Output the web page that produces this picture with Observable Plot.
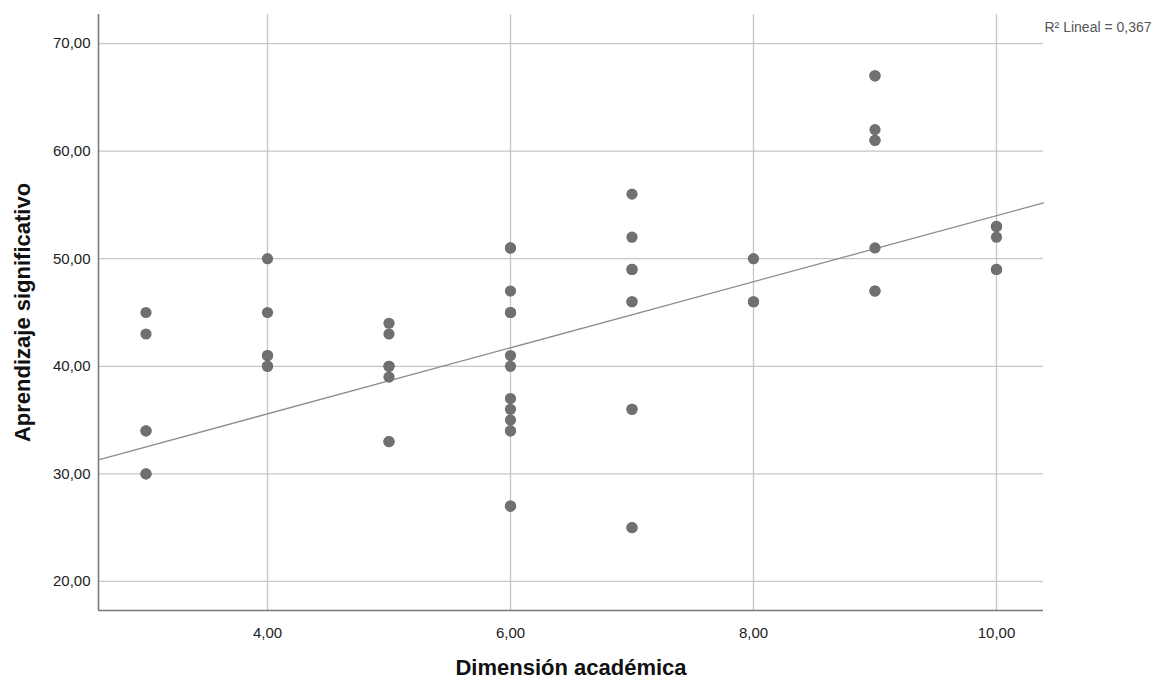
<!DOCTYPE html>
<html>
<head>
<meta charset="utf-8">
<script src="https://cdn.jsdelivr.net/npm/d3@7"></script>
<script src="https://cdn.jsdelivr.net/npm/@observablehq/plot@0.6"></script>
<style>
  html, body { margin: 0; padding: 0; background: #fff; }
  #chart svg { display: block; }
</style>
</head>
<body>
<div id="chart"></div>
<script>
// Data (duplicates listed twice)
const dimensionAcademica = [
  3, 3, 3, 3, 3, 3,
  4, 4, 4, 4, 4, 4,
  5, 5, 5, 5, 5, 5, 5,
  6, 6, 6, 6, 6, 6, 6, 6, 6, 6, 6, 6, 6, 6,
  7, 7, 7, 7, 7, 7, 7, 7, 7, 7,
  8, 8, 8,
  9, 9, 9, 9, 9, 9, 9, 9,
  10, 10, 10, 10, 10
];
const aprendizajeSignificativo = [
  45, 43, 34, 34, 30, 30,
  50, 45, 41, 41, 40, 40,
  44, 43, 40, 40, 39, 33, 33,
  51, 51, 47, 45, 45, 41, 40, 37, 36, 35, 34, 34, 27, 27,
  56, 52, 49, 49, 46, 46, 36, 36, 25, 25,
  50, 46, 46,
  67, 67, 62, 61, 61, 51, 47, 47,
  53, 53, 52, 49, 49
];
const xTicks = [4, 6, 8, 10];
const yTicks = [20, 30, 40, 50, 60, 70];
const fitIntercept = 23.3;
const fitSlope = 3.07;
const r2Label = "R\u00B2 Lineal = 0,367";
const xLabel = "Dimensión académica";
const yLabel = "Aprendizaje significativo";

const xDomain = [2.609, 10.387];
const yDomain = [17.3, 72.7];

const points = dimensionAcademica.map((x, i) => ({x, y: aprendizajeSignificativo[i]}));
const fitLine = xDomain.map(x => ({x, y: fitIntercept + fitSlope * x}));
const fmt = d => d.toFixed(2).replace(".", ",");

const chart = Plot.plot({
  width: 1162,
  height: 679,
  marginLeft: 98,
  marginRight: 119,
  marginTop: 14,
  marginBottom: 69,
  style: {fontFamily: "'Liberation Sans', Arial, sans-serif", background: "#fff"},
  x: {domain: xDomain},
  y: {domain: yDomain},
  marks: [
    Plot.gridX(xTicks, {stroke: "#c6c6c6", strokeOpacity: 1, strokeWidth: 1.3}),
    Plot.gridY(yTicks, {stroke: "#c6c6c6", strokeOpacity: 1, strokeWidth: 1.3}),
    Plot.axisX(xTicks, {tickSize: 0, tickPadding: 17, tickFormat: fmt, fontSize: 15, fill: "#222", label: null}),
    Plot.axisY(yTicks, {tickSize: 0, tickPadding: 8, tickFormat: fmt, fontSize: 15, fill: "#222", label: null}),
    Plot.ruleX([xDomain[0]], {stroke: "#7a7a7a", strokeWidth: 1.6}),
    Plot.ruleY([yDomain[0]], {stroke: "#7a7a7a", strokeWidth: 1.6}),
    Plot.line(fitLine, {x: "x", y: "y", stroke: "#8c8c8c", strokeWidth: 1.3}),
    Plot.dot(points, {x: "x", y: "y", r: 5.6, fill: "#707070", stroke: "none"}),
    Plot.text([r2Label], {frameAnchor: "top-right", dx: 1, dy: 13, textAnchor: "start", lineAnchor: "middle", fontSize: 14, fill: "#555"}),
    Plot.text([xLabel], {frameAnchor: "bottom", dy: 57, textAnchor: "middle", lineAnchor: "middle", fontSize: 22, fontWeight: "bold", fill: "#111"}),
    Plot.text([yLabel], {frameAnchor: "left", dx: -76, rotate: -90, textAnchor: "middle", lineAnchor: "middle", fontSize: 22, fontWeight: "bold", fill: "#111"})
  ]
});
document.getElementById("chart").appendChild(chart);
</script>
</body>
</html>
